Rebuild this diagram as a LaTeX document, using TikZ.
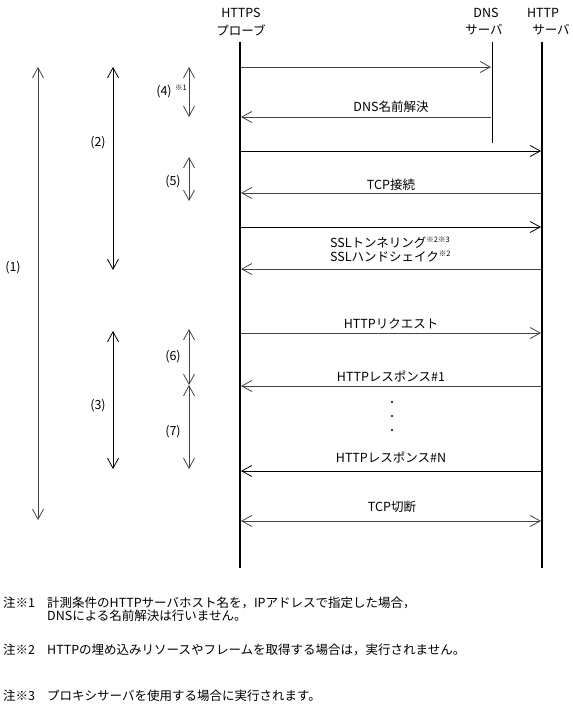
\documentclass[tikz,border=0pt]{standalone}
\usepackage{fontspec}
\setmainfont{Noto Sans CJK JP}
\usetikzlibrary{arrows.meta}
\definecolor{lgrey}{HTML}{444444}
\begin{document}
\begin{tikzpicture}[x=1pt,y=-1pt,
  every node/.style={inner sep=0pt,font=\fontsize{12.5}{15}\selectfont},
  life/.style={line width=1.8pt},
  thinlife/.style={line width=0.9pt},
  tip/.tip={Straight Barb[length=10pt,width=11pt,line width=0.8pt]},
  msg/.style={line width=0.9pt,draw=lgrey,-tip},
  msgk/.style={line width=0.9pt,draw=black,-tip},
  msgb/.style={line width=0.9pt,draw=lgrey,tip-tip},
  span/.style={line width=0.9pt,draw=lgrey,tip-tip},
  spank/.style={line width=0.9pt,draw=black,tip-tip},
  sup/.style={font=\fontsize{7.5}{9}\selectfont},
  note/.style={anchor=west,font=\fontsize{12.5}{15}\selectfont}]
\useasboundingbox (0,0) rectangle (572,708);
% headers
\node (hp1) at (241,13) {HTTPS};
\node (hp2) at (241,30) {プローブ};
\node (hd1) at (486,13) {DNS};
\node (hd2) at (484,30) {サーバ};
\node (hh1) at (543,13) {HTTP};
\node (hh2) at (551,30) {サーバ};
% lifelines
\coordinate (pt) at (240,42); \coordinate (pb) at (240,568);
\coordinate (dt) at (492,42); \coordinate (db) at (492,143);
\coordinate (ht) at (542,42); \coordinate (hb) at (542,568);
\draw[life] (pt) -- (pb);
\draw[thinlife] (dt) -- (db);
\draw[life] (ht) -- (hb);
% message points
\foreach \n/\y in {1/67,2/117,3/151,4/193,5/227,6/269,7/333,8/386,9/471,10/521}{
  \coordinate (p\n) at (241,\y);
}
\coordinate (d1) at (491,67); \coordinate (d2) at (491,117);
\foreach \n/\y in {3/151,4/193,5/227,6/269,7/333,8/386,9/471,10/521}{
  \coordinate (h\n) at (541,\y);
}
\draw[msg] (p1) -- (d1);
\draw[msg] (d2) -- (p2);
\draw[msgk] (p3) -- (h3);
\draw[msg] (h4) -- (p4);
\draw[msgk] (p5) -- (h5);
\draw[msg] (h6) -- (p6);
\draw[msg] (p7) -- (h7);
\draw[msg] (h8) -- (p8);
\draw[msgk] (h9) -- (p9);
\draw[msgb] (p10) -- (h10);
% labels
\node (l2) at (391,107) {DNS名前解決};
\node (l4) at (391,185) {TCP接続};
\node[anchor=west] (l6a) at (330,243) {SSLトンネリング\raisebox{0.4em}{\fontsize{7.5}{9}\selectfont ※2※3}};
\node[anchor=west] (l6b) at (330,257) {SSLハンドシェイク\raisebox{0.4em}{\fontsize{7.5}{9}\selectfont ※2}};
\node (l7) at (391,324) {HTTPリクエスト};
\node (l8) at (391,376) {HTTPレスポンス\#1};
\node (l9) at (391,457) {HTTPレスポンス\#N};
\node (l10) at (392,507) {TCP切断};
% dots
\foreach \y in {402,416,430}{\fill (392,\y) circle (1.1pt);}
% spans
\coordinate (s1t) at (38,67);  \coordinate (s1b) at (38,520);
\coordinate (s2t) at (113,67); \coordinate (s2b) at (113,270);
\coordinate (s3t) at (113,331); \coordinate (s3b) at (113,469);
\coordinate (s4t) at (189,67); \coordinate (s4b) at (189,117);
\coordinate (s5t) at (189,157); \coordinate (s5b) at (189,201);
\coordinate (s6t) at (189,329); \coordinate (s6b) at (189,385);
\coordinate (s7t) at (189,385); \coordinate (s7b) at (189,469);
\draw[span] (s1t) -- (s1b);
\draw[spank] (s2t) -- (s2b);
\draw[spank] (s3t) -- (s3b);
\draw[span] (s4t) -- (s4b);
\draw[span] (s5t) -- (s5b);
\draw[span] (s6t) -- (s6b);
\draw[span] (s7t) -- (s7b);
\node (n1) at (13,268) {(1)};
\node (n2) at (98,143) {(2)};
\node (n3) at (98,406) {(3)};
\node (n4) at (164,92) {(4)};
\node[sup] (n4s) at (181,88) {※1};
\node (n5) at (173,182) {(5)};
\node (n6) at (173,357) {(6)};
\node (n7) at (173,432) {(7)};
% notes
\node[note] (c1) at (3,603) {注※1};
\node[note] (t1a) at (47,603) {計測条件のHTTPサーバホスト名を，IPアドレスで指定した場合，};
\node[note] (t1b) at (47,616) {DNSによる名前解決は行いません。};
\node[note] (c2) at (3,650) {注※2};
\node[note] (t2) at (47,650) {HTTPの埋め込みリソースやフレームを取得する場合は，実行されません。};
\node[note] (c3) at (3,696) {注※3};
\node[note] (t3) at (47,696) {プロキシサーバを使用する場合に実行されます。};
\end{tikzpicture}
\end{document}
